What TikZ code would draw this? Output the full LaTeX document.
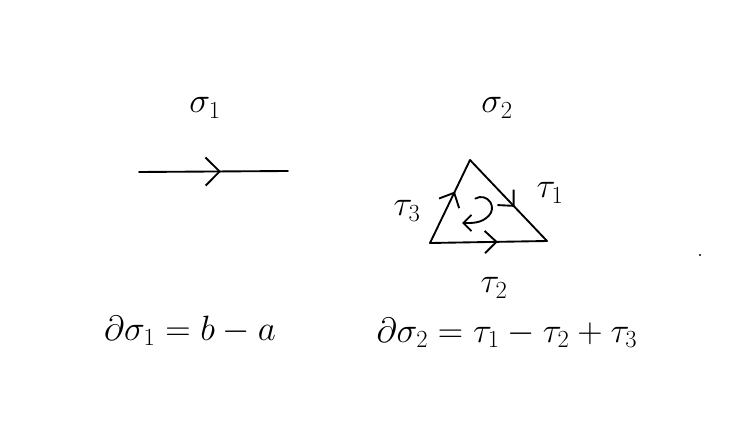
\RequirePackage{fix-cm}
\documentclass[tikz,border=0pt]{standalone}
\usepackage{amsmath, amssymb}
\usepackage{tikz}
\usetikzlibrary{arrows.meta,decorations.markings}

\tikzset{
  hand/.style={font=\fontsize{30}{36}\selectfont},
  pen/.style={line width=1.6pt, line cap=round, line join=round},
  midarrow/.style={postaction={decorate}, decoration={markings,
      mark=at position #1 with {\arrow{Straight Barb[length=10pt, width=19pt, line width=1.6pt]}}}}
}

\begin{document}
\begin{tikzpicture}[x=0.03cm, y=0.03cm]
  \useasboundingbox (0,0) rectangle (752,443);
  \fill[white] (0,0) rectangle (752,443);

  % 1-simplex
  \node[hand] (sig1) at (205,335) {$\sigma_1$};
  \coordinate (sa) at (139,271);
  \coordinate (sb) at (288,272);
  \draw[pen, postaction={decorate}, decoration={markings, mark=at position 0.55 with
    {\arrow{Straight Barb[length=12pt, width=24pt, line width=1.6pt]}}}] (sa) -- (sb);

  % 2-simplex
  \node[hand] (sig2) at (497,335) {$\sigma_2$};
  \coordinate (vt) at (470,283);
  \coordinate (vl) at (430,200);
  \coordinate (vr) at (547,202);
  \draw[pen, midarrow=0.58] (vt) -- (vr);
  \draw[pen, midarrow=0.58] (vl) -- (vr);
  \draw[pen, midarrow=0.62] (vl) -- (vt);
  \node[hand] (tau1) at (550,250) {$\tau_1$};
  \node[hand] (tau2) at (494,155) {$\tau_2$};
  \node[hand] (tau3) at (407,232) {$\tau_3$};
  \coordinate (rot) at (481,235);
  \coordinate (rotend) at (462,220);
  \draw[pen, -{Straight Barb[length=7pt, width=14pt, line width=1.6pt]}]
    (rot) ++(121:11) arc[start angle=121, end angle=-45, radius=11]
    to[out=225, in=0] (rotend);

  % boundaries
  \node[hand] (bd1) at (190,112) {$\partial\sigma_1 = b - a$};
  \node[hand] (bd2) at (507,110) {$\partial\sigma_2 = \tau_1 - \tau_2 + \tau_3$};

  \fill (700,188) circle (1.2);
\end{tikzpicture}
\end{document}
